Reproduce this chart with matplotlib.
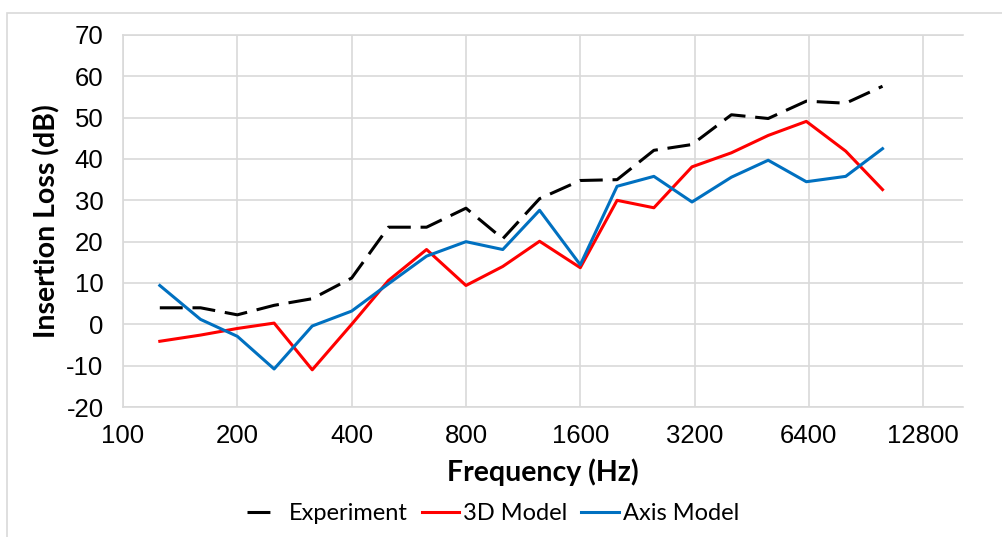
import matplotlib
matplotlib.use("Agg")
import matplotlib.pyplot as plt
from matplotlib.patches import Rectangle

plt.rcParams['axes.unicode_minus'] = False

# --- data (1/3-octave bands) ---
freq = [125, 160, 200, 250, 315, 400, 500, 630, 800, 1000,
        1250, 1600, 2000, 2500, 3150, 4000, 5000, 6300, 8000, 10000]
experiment = [4.0, 4.0, 2.3, 4.6, 6.2, 11.2, 23.5, 23.5, 28.1, 20.7,
              30.4, 34.8, 35.0, 42.1, 43.5, 50.7, 49.8, 54.0, 53.5, 57.6]
model_3d = [-4.1, -2.6, -1.0, 0.3, -11.0, 0.0, 10.6, 18.1, 9.4, 14.0,
            20.1, 13.7, 30.0, 28.2, 38.1, 41.5, 45.7, 49.1, 41.9, 32.6]
model_axis = [9.4, 1.2, -2.9, -10.8, -0.4, 3.2, 9.8, 16.5, 20.0, 18.1,
              27.6, 14.4, 33.4, 35.8, 29.6, 35.6, 39.7, 34.5, 35.8, 42.5]

xticks = [100, 200, 400, 800, 1600, 3200, 6400, 12800]
yticks = list(range(-20, 71, 10))

grid_c = '#D9D9D9'
tick_font = 'Liberation Sans'
title_font = 'Lato'

fig = plt.figure(figsize=(10.03, 5.37), dpi=100)
fig.patches.append(Rectangle((7 / 1003, -0.1), 1.2, 1.1 - 13 / 537,
                             transform=fig.transFigure, fill=False,
                             edgecolor=grid_c, linewidth=1.2))
ax = fig.add_axes([123 / 1003, 1 - 407 / 537, 840 / 1003, 372 / 537])

ax.plot(freq, experiment, color='black', linewidth=2.2, dashes=(7.5, 3.2), label='Experiment')
ax.plot(freq, model_3d, color='#FF0000', linewidth=2.2, label='3D Model')
ax.plot(freq, model_axis, color='#0070C0', linewidth=2.2, label='Axis Model')

ax.set_xscale('log', base=2)
ax.set_xlim(100, 16290)
ax.set_ylim(-20, 70)
ax.set_xticks(xticks)
ax.set_xticklabels([str(t) for t in xticks])
ax.xaxis.set_minor_locator(matplotlib.ticker.NullLocator())
ax.set_yticks(yticks)
ax.tick_params(length=0, labelsize=18.5, pad=14)
for lab in ax.get_xticklabels() + ax.get_yticklabels():
    lab.set_fontfamily(tick_font)
ax.tick_params(axis='x', pad=12)

ax.grid(True, color=grid_c, linewidth=1.2)
ax.set_axisbelow(True)
ax.spines['right'].set_visible(False)
for s in ['left', 'bottom', 'top']:
    ax.spines[s].set_color(grid_c)
    ax.spines[s].set_linewidth(1.2)

ax.set_xlabel('Frequency (Hz)', fontsize=20.5, fontweight='bold', fontfamily=title_font, labelpad=8)
ax.set_ylabel('Insertion Loss (dB)', fontsize=20.5, fontweight='bold', fontfamily=title_font, labelpad=4)

leg = fig.legend(loc='center', bbox_to_anchor=(493 / 1003, 1 - 514 / 537), ncol=3,
                 frameon=False, prop={'family': title_font, 'size': 17},
                 handlelength=1.6, handletextpad=0.15, columnspacing=0.6)
# single dash in the legend handle, like the original
leg.get_lines()[0].set_dashes((7.5, 12))

fig.savefig('out.png', dpi=100)
